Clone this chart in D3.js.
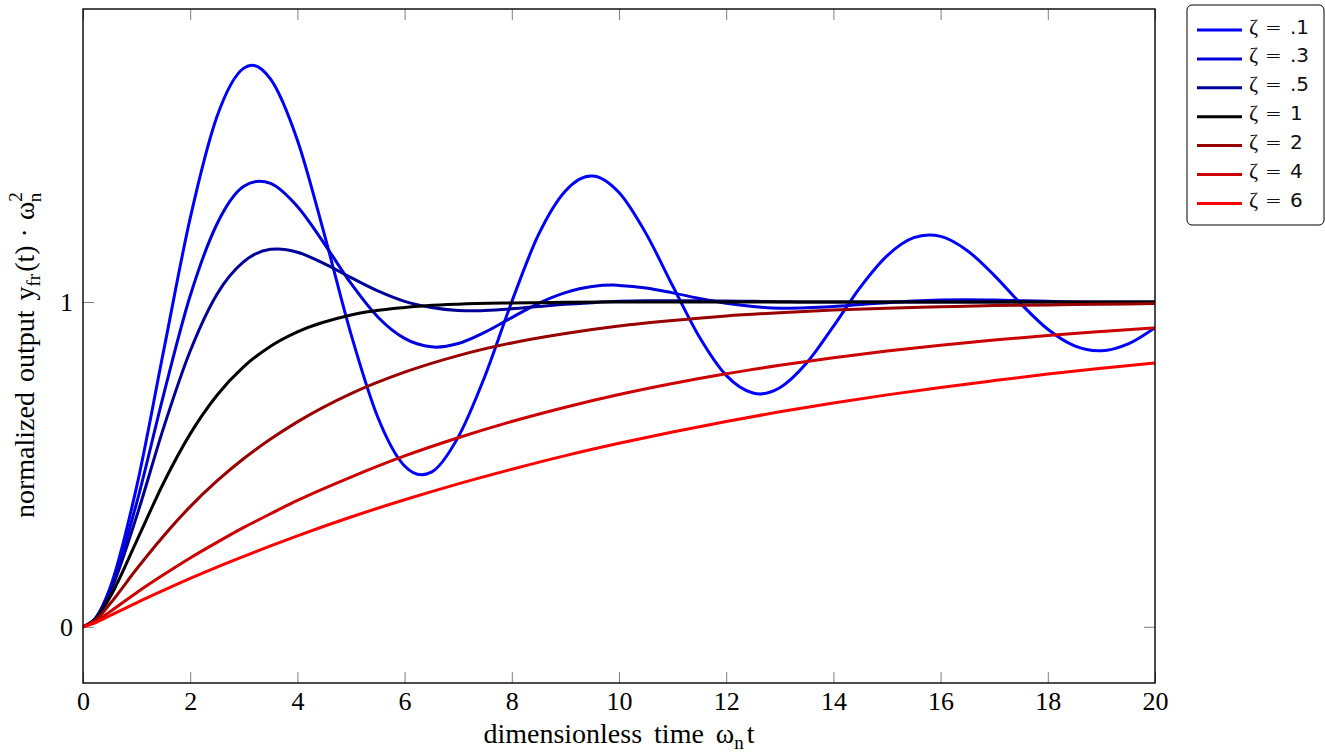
<!DOCTYPE html>
<html>
<head>
<meta charset="utf-8">
<script src="https://cdn.jsdelivr.net/npm/d3@7"></script>
<style>
  body { margin: 0; background: #fff; }
  svg { display: block; }
</style>
</head>
<body>
<svg id="chart"></svg>
<script>
// sample times (dimensionless)
const tOsc = [0, 0.25, 0.5, 1, 1.5, 2, 2.5, 3, 3.5, 4, 4.5, 5, 5.5, 6, 6.5, 7, 7.5, 8, 8.5, 9, 9.5,
  10, 10.5, 11, 11.5, 12, 12.5, 13, 13.5, 14, 14.5, 15, 15.5, 16, 16.5, 17, 17.5, 18, 18.5, 19, 19.5, 20];
const tSlow = [0, 0.25, 0.5, 1, 1.5, 2, 2.5, 3, 3.5, 4, 5, 6, 7, 8, 9, 10, 11, 12, 13, 14, 15, 16, 17, 18, 19, 20];

const z01 = [0, 0.030, 0.118, 0.431, 0.846, 1.258, 1.571, 1.720, 1.686, 1.498, 1.210, 0.901, 0.645, 0.495,
  0.476, 0.584, 0.772, 1.001, 1.208, 1.342, 1.388, 1.337, 1.212, 1.050, 0.892, 0.774, 0.720, 0.736, 0.812,
  0.925, 1.045, 1.142, 1.198, 1.202, 1.158, 1.082, 0.994, 0.916, 0.865, 0.850, 0.871, 0.921];
const z03 = [0, 0.030, 0.111, 0.381, 0.712, 1.019, 1.240, 1.356, 1.365, 1.294, 1.180, 1.057, 0.954, 0.888,
  0.862, 0.872, 0.907, 0.952, 0.996, 1.029, 1.048, 1.051, 1.043, 1.028, 1.011, 0.996, 0.986, 0.981, 0.982,
  0.986, 0.992, 0.998, 1.003, 1.006, 1.007, 1.006, 1.004, 1.002, 0.999, 0.998, 0.997, 0.997];
const z05 = [0, 0.029, 0.104, 0.340, 0.611, 0.849, 1.024, 1.124, 1.162, 1.153, 1.118, 1.075, 1.034, 1.002,
  0.983, 0.974, 0.974, 0.979, 0.986, 0.993, 0.998, 1.002, 1.004, 1.004, 1.004, 1.003, 1.002, 1.001, 1.000,
  1.000, 1.000, 1.000, 1.000, 1.000, 1.000, 1.000, 1.000, 1.000, 1.000, 1.000, 1.000, 1.000];
const z1 = [0, 0.026, 0.090, 0.264, 0.442, 0.594, 0.713, 0.801, 0.864, 0.908, 0.960, 0.983, 0.993, 0.997,
  0.999, 1.000, 1.000, 1.000, 1.000, 1.000, 1.000, 1.000, 1.000, 1.000, 1.000, 1.000];
const z2 = [0, 0.023, 0.070, 0.178, 0.279, 0.370, 0.449, 0.518, 0.578, 0.631, 0.718, 0.784, 0.835, 0.874,
  0.903, 0.926, 0.943, 0.957, 0.967, 0.975, 0.981, 0.985, 0.989, 0.991, 0.993, 0.995];
const z4 = [0, 0.018, 0.046, 0.105, 0.160, 0.212, 0.260, 0.306, 0.348, 0.389, 0.461, 0.526, 0.582, 0.632,
  0.676, 0.715, 0.749, 0.779, 0.805, 0.828, 0.849, 0.867, 0.883, 0.897, 0.909, 0.920];
const z6 = [0, 0.014, 0.034, 0.074, 0.112, 0.149, 0.184, 0.217, 0.249, 0.280, 0.338, 0.391, 0.440, 0.485,
  0.527, 0.565, 0.600, 0.632, 0.662, 0.689, 0.714, 0.737, 0.758, 0.778, 0.796, 0.812];

// turning points of the oscillating curves (peaks and troughs)
const z01ExtT = [3.157, 6.315, 9.472, 12.63, 15.787, 18.944];
const z01ExtY = [1.729, 0.468, 1.388, 0.717, 1.206, 0.850];
const z03ExtT = [3.293, 6.587, 9.88, 13.17, 16.47, 19.76];
const z03ExtY = [1.372, 0.861, 1.052, 0.981, 1.007, 0.997];
const z05ExtT = [3.628, 7.255, 10.883];
const z05ExtY = [1.163, 0.973, 1.004];

const legendLabels = [".1", ".3", ".5", "1", "2", "4", "6"];
const xTicks = [0, 2, 4, 6, 8, 10, 12, 14, 16, 18, 20];
const yTicks = [0, 1];

// merge samples and turning points into one sorted list
const points = (t, y, extT = [], extY = []) =>
  d3.sort(d3.zip(t, y).concat(d3.zip(extT, extY)), (d) => d[0]);

const series = [
  { label: legendLabels[0], pts: points(tOsc, z01, z01ExtT, z01ExtY), color: "#0000ff" },
  { label: legendLabels[1], pts: points(tOsc, z03, z03ExtT, z03ExtY), color: "#0000dd" },
  { label: legendLabels[2], pts: points(tOsc, z05, z05ExtT, z05ExtY), color: "#000099" },
  { label: legendLabels[3], pts: points(tSlow, z1), color: "#000000" },
  { label: legendLabels[4], pts: points(tSlow, z2), color: "#990000" },
  { label: legendLabels[5], pts: points(tSlow, z4), color: "#cc0000" },
  { label: legendLabels[6], pts: points(tSlow, z6), color: "#ff0000" },
];

// canvas variables
const width = 1325;
const height = 755;
const plotLeft = 83;
const plotRight = 1155;
const plotTop = 9;
const plotBottom = 683;
const serif = "'Liberation Serif', 'DejaVu Serif', serif";

const svg = d3.select("#chart").attr("width", width).attr("height", height);

const xScale = d3.scaleLinear().domain([0, 20]).range([plotLeft, plotRight]);
const yScale = d3.scaleLinear().domain([-0.173, 1.902]).range([plotBottom, plotTop]);

// ticks (inside, grey)
const tickLen = 11;
svg
  .append("g")
  .attr("transform", `translate(0, ${plotBottom})`)
  .call(d3.axisBottom(xScale).tickValues(xTicks).tickSizeInner(-tickLen).tickSizeOuter(0).tickPadding(9))
  .call((g) => g.select(".domain").remove())
  .call((g) => g.selectAll("line").attr("stroke", "#808080"))
  .call((g) => g.selectAll("text").attr("font-family", serif).attr("font-size", 26).attr("fill", "#000"));

svg
  .append("g")
  .attr("transform", `translate(0, ${plotTop})`)
  .call(d3.axisTop(xScale).tickValues(xTicks).tickSizeInner(-tickLen).tickSizeOuter(0).tickFormat(""))
  .call((g) => g.select(".domain").remove())
  .call((g) => g.selectAll("line").attr("stroke", "#808080"));

svg
  .append("g")
  .attr("transform", `translate(${plotLeft}, 0)`)
  .call(
    d3.axisLeft(yScale).tickValues(yTicks).tickFormat(d3.format("d"))
      .tickSizeInner(-tickLen).tickSizeOuter(0).tickPadding(10)
  )
  .call((g) => g.select(".domain").remove())
  .call((g) => g.selectAll("line").attr("stroke", "#808080"))
  .call((g) => g.selectAll("text").attr("font-family", serif).attr("font-size", 26).attr("fill", "#000"));

svg
  .append("g")
  .attr("transform", `translate(${plotRight}, 0)`)
  .call(d3.axisRight(yScale).tickValues(yTicks).tickSizeInner(-tickLen).tickSizeOuter(0).tickFormat(""))
  .call((g) => g.select(".domain").remove())
  .call((g) => g.selectAll("line").attr("stroke", "#808080"));

// curves
svg.append("clipPath").attr("id", "clip")
  .append("rect")
  .attr("x", plotLeft).attr("y", plotTop)
  .attr("width", plotRight - plotLeft).attr("height", plotBottom - plotTop);

const line = d3
  .line()
  .x((d) => xScale(d[0]))
  .y((d) => yScale(d[1]))
  .curve(d3.curveMonotoneX);

svg
  .append("g")
  .attr("clip-path", "url(#clip)")
  .selectAll("path")
  .data(series)
  .enter()
  .append("path")
  .attr("fill", "none")
  .attr("stroke", (d) => d.color)
  .attr("stroke-width", 3)
  .attr("stroke-linejoin", "round")
  .attr("d", (d) => line(d.pts));

// frame
svg
  .append("rect")
  .attr("x", plotLeft).attr("y", plotTop)
  .attr("width", plotRight - plotLeft).attr("height", plotBottom - plotTop)
  .attr("fill", "none")
  .attr("stroke", "#000")
  .attr("stroke-width", 1.4);

// x label
const xLabel = svg
  .append("text")
  .attr("x", (plotLeft + plotRight) / 2)
  .attr("y", 743)
  .attr("text-anchor", "middle")
  .attr("font-family", serif)
  .attr("font-size", 28)
  .attr("word-spacing", 5);
xLabel.append("tspan").text("dimensionless time ω");
xLabel.append("tspan").attr("dy", 6).attr("font-size", 19).text("n");
xLabel.append("tspan").attr("dy", -6).attr("dx", 3).text("t");

// y label
const yLabel = svg
  .append("text")
  .attr("transform", `translate(34, 518) rotate(-90)`)
  .attr("text-anchor", "start")
  .attr("font-family", serif)
  .attr("font-size", 28)
  .attr("word-spacing", 3);
yLabel.append("tspan").text("normalized output y");
yLabel.append("tspan").attr("dy", 6).attr("font-size", 19).text("fr");
yLabel.append("tspan").attr("dy", -6).attr("dx", 2).text("(t)");
yLabel.append("tspan").attr("dx", 8).text("·");
yLabel.append("tspan").attr("dx", 8).text("ω");
yLabel.append("tspan").attr("dy", -12).attr("font-size", 19).text("2");
yLabel.append("tspan").attr("dy", 19).attr("dx", -10).attr("font-size", 19).text("n");

// legend
const legend = svg.append("g");
legend
  .append("rect")
  .attr("x", 1187).attr("y", 5)
  .attr("width", 137).attr("height", 220)
  .attr("rx", 5)
  .attr("fill", "#fff")
  .attr("stroke", "#000")
  .attr("stroke-width", 1);

const rowY = (i) => 30 + i * 28.9;

const rows = legend
  .selectAll("g.row")
  .data(series)
  .enter()
  .append("g")
  .attr("class", "row")
  .attr("transform", (d, i) => `translate(0, ${rowY(i)})`);

rows
  .append("line")
  .attr("x1", 1197).attr("x2", 1242)
  .attr("stroke", (d) => d.color)
  .attr("stroke-width", 3);

const rowText = rows
  .append("text")
  .attr("y", 3.5)
  .attr("font-family", "'DejaVu Sans', sans-serif")
  .attr("font-size", 20)
  .attr("fill", "#111");
rowText.append("tspan").attr("x", 1249).attr("font-family", serif).attr("font-size", 22).text("ζ");
rowText.append("tspan").attr("x", 1265).attr("font-weight", 300).text("=");
rowText.append("tspan").attr("x", 1290).text((d) => d.label);
</script>
</body>
</html>
